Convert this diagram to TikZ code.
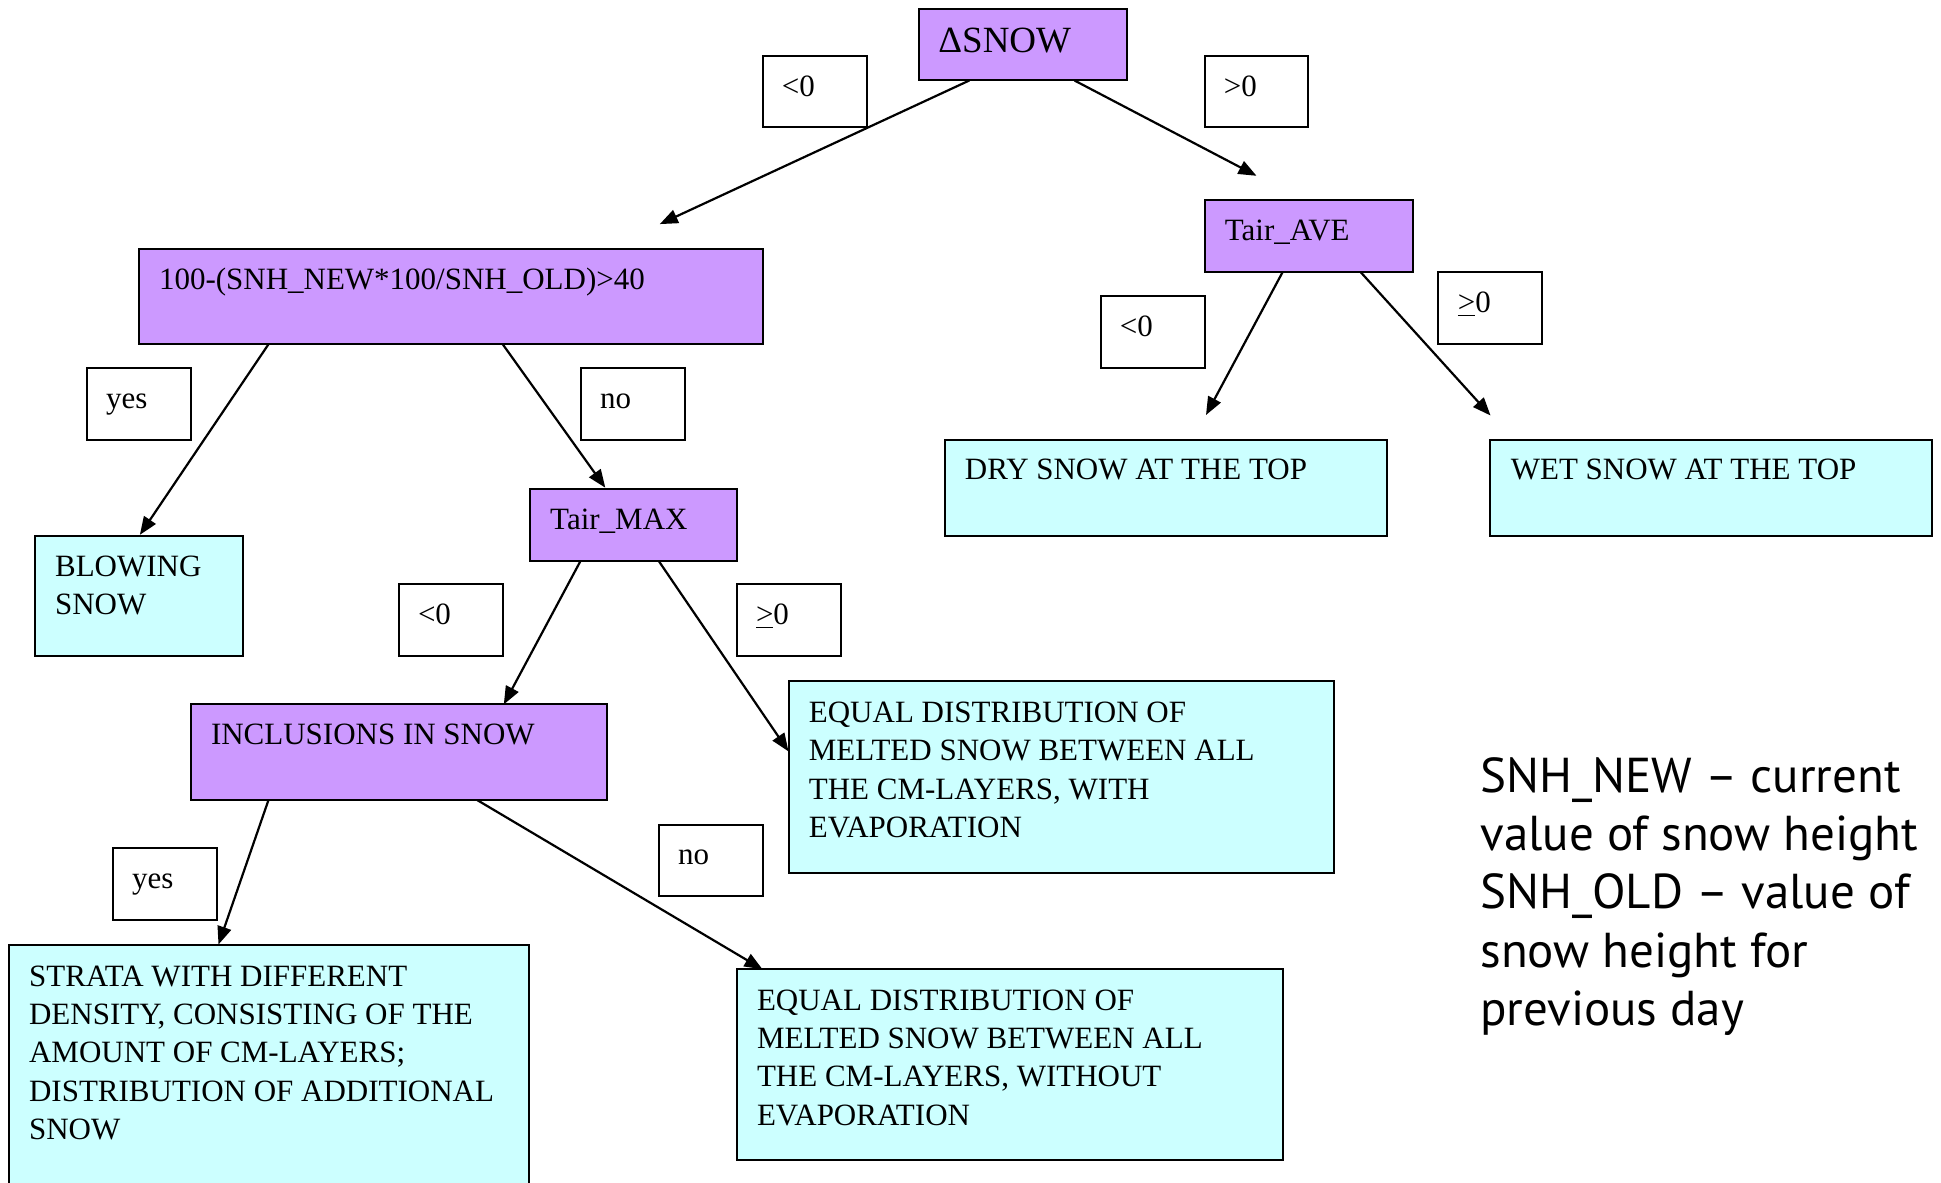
\documentclass[tikz,border=0pt]{standalone}
\usepackage{fontspec}
\setmainfont{Liberation Serif}
\newfontfamily\legendfont{PT Sans}
\usetikzlibrary{fit,arrows.meta}
\definecolor{purp}{HTML}{CC99FF}
\definecolor{cyanbox}{HTML}{CCFFFF}
\newcommand\st{\rule{0pt}{12pt}}
\begin{document}
\begin{tikzpicture}[x=0.5pt,y=-0.5pt,
  dec/.style={draw, line width=1pt, fill=purp, inner sep=0pt},
  res/.style={draw, line width=1pt, fill=cyanbox, inner sep=0pt},
  lab/.style={draw, line width=1pt, fill=white, inner sep=0pt},
  txt/.style={anchor=north west, inner sep=0pt, align=left, font=\fontsize{15.5}{19.1}\selectfont},
  arr/.style={line width=1.1pt, -{Triangle[length=9pt,width=7pt]}}]
\useasboundingbox (0,0) rectangle (1941,1182);
\fill[white] (0,0) rectangle (1941,1182);

% arrow start/end points
\coordinate (s1) at (969.3,80.5);  \coordinate (t1) at (659.8,224.1);
\coordinate (s2) at (1074.5,80.5); \coordinate (t2) at (1256.5,175.8);
\coordinate (s3) at (268.6,344.1); \coordinate (t3) at (139.9,534.8);
\coordinate (s4) at (502.6,344.1); \coordinate (t4) at (605.3,487.7);
\coordinate (s5) at (1282.5,272.3);\coordinate (t5) at (1206,415);
\coordinate (s6) at (1360.8,272.3);\coordinate (t6) at (1490.5,415.5);
\coordinate (s7) at (580.6,560.8); \coordinate (t7) at (503.8,704.4);
\coordinate (s8) at (658.6,560.8); \coordinate (t8) at (788.5,751.4);
\coordinate (s9) at (268.6,799.7); \coordinate (t9) at (218.5,944.5);
\coordinate (s10) at (476.6,799.7);\coordinate (t10) at (762.5,969.3);

\draw[arr] (s1) -- (t1);
\draw[arr] (s2) -- (t2);
\draw[arr] (s3) -- (t3);
\draw[arr] (s4) -- (t4);
\draw[arr] (s5) -- (t5);
\draw[arr] (s6) -- (t6);
\draw[arr] (s7) -- (t7);
\draw[arr] (s8) -- (t8);
\draw[arr] (s9) -- (t9);
\draw[arr] (s10) -- (t10);

% decision boxes
\node[dec, fit={(918.5,8.7)(1126.5,80.5)}] (snow) {};
\node[txt, font=\fontsize{18.5}{22}\selectfont] (snowt) at (938,26) {\rule{0pt}{13pt}ΔSNOW};
\node[dec, fit={(138.6,248.8)(762.5,344.1)}] (ratio) {};
\node[txt] (ratiot) at (158.6,264.8) {\st 100-(SNH\_NEW*100/SNH\_OLD)>40};
\node[dec, fit={(1204.5,200.5)(1412.5,272.3)}] (tave) {};
\node[txt] (tavet) at (1224.5,216.5) {\st Tair\_AVE};
\node[dec, fit={(529.8,489)(736.6,560.8)}] (tmax) {};
\node[txt] (tmaxt) at (549.8,505) {\st Tair\_MAX};
\node[dec, fit={(190.6,704.4)(606.6,799.7)}] (incl) {};
\node[txt] (inclt) at (210.6,720.4) {\st INCLUSIONS IN SNOW};

% result boxes
\node[res, fit={(944.5,439.5)(1386.5,536)}] (dry) {};
\node[txt] (dryt) at (964.5,455.5) {\st DRY SNOW AT THE TOP};
\node[res, fit={(1490.4,439.5)(1932.4,536)}] (wet) {};
\node[txt] (wett) at (1510.4,455.5) {\st WET SNOW AT THE TOP};
\node[res, fit={(34.7,536)(242.6,656)}] (blow) {};
\node[txt] (blowt) at (54.7,552) {\st BLOWING\\SNOW};
\node[res, fit={(788.5,680.8)(1334.4,872.7)}] (eq1) {};
\node[txt] (eq1t) at (808.5,698.3) {\st EQUAL DISTRIBUTION OF\\MELTED SNOW BETWEEN ALL\\THE CM-LAYERS, WITH\\EVAPORATION};
\node[res, fit={(8.7,944.5)(528.6,1195)}] (strata) {};
\node[txt] (stratat) at (28.7,962) {\st STRATA WITH DIFFERENT\\DENSITY, CONSISTING OF THE\\AMOUNT OF CM-LAYERS;\\DISTRIBUTION OF ADDITIONAL\\SNOW};
\node[res, fit={(736.6,969.3)(1282.5,1160)}] (eq2) {};
\node[txt] (eq2t) at (756.6,986) {\st EQUAL DISTRIBUTION OF\\MELTED SNOW BETWEEN ALL\\THE CM-LAYERS, WITHOUT\\EVAPORATION};

% label boxes
\node[lab, fit={(762.5,55.7)(866.5,127.5)}] (l1) {};
\node[txt] (l1t) at (781.5,71.7) {\st <0};
\node[lab, fit={(1204.5,55.7)(1308.4,127.5)}] (l2) {};
\node[txt] (l2t) at (1223.5,71.7) {\st >0};
\node[lab, fit={(1100.5,295.9)(1204.5,367.6)}] (l3) {};
\node[txt] (l3t) at (1119.5,311.9) {\st <0};
\node[lab, fit={(1438.4,272.3)(1542.4,344.1)}] (l4) {};
\node[txt] (l4t) at (1457.4,288.3) {\st \underline{>}0};
\node[lab, fit={(86.7,367.6)(190.6,439.5)}] (l5) {};
\node[txt] (l5t) at (105.7,383.6) {\st yes};
\node[lab, fit={(580.6,367.6)(684.6,439.5)}] (l6) {};
\node[txt] (l6t) at (599.6,383.6) {\st no};
\node[lab, fit={(398.6,584.3)(502.6,656)}] (l7) {};
\node[txt] (l7t) at (417.6,600.3) {\st <0};
\node[lab, fit={(736.6,584.3)(840.5,656)}] (l8) {};
\node[txt] (l8t) at (755.6,600.3) {\st \underline{>}0};
\node[lab, fit={(658.6,824.5)(762.5,896.2)}] (l9) {};
\node[txt] (l9t) at (677.6,840.5) {\st no};
\node[lab, fit={(112.6,848)(216.6,919.8)}] (l10) {};
\node[txt] (l10t) at (131.6,864) {\st yes};

% legend
\node[anchor=north west, inner sep=0pt, align=left, font=\legendfont\fontsize{24.5}{29.1}\selectfont] (legend) at (1480,756)
  {\rule{0pt}{18pt}SNH\_NEW – current\\value of snow height\\SNH\_OLD – value of\\snow height for\\previous day};
\end{tikzpicture}
\end{document}
